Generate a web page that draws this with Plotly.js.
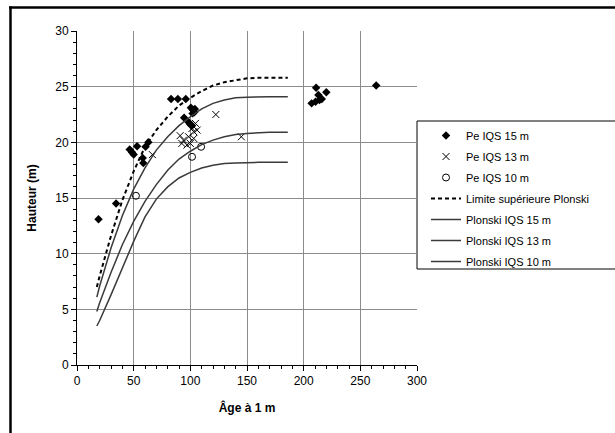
<!DOCTYPE html>
<html>
<head>
<meta charset="utf-8">
<script src="https://cdn.plot.ly/plotly-3.0.1.min.js"></script>
<style>html,body{margin:0;padding:0;background:#fff;}#chart{width:615px;height:433px;}</style>
</head>
<body>
<div id="chart"></div>
<script>
// Observed points: Pe IQS 15 m (diamonds)
const pe15Age = [19, 34.5, 46.5, 48.5, 50, 53, 58, 58.5, 60.5, 63, 83, 89, 96, 94.5, 98.5, 100, 101.5, 100.5, 102.5, 103.5, 102, 104, 207, 210.5, 211, 213, 214, 216, 220, 264];
const pe15H   = [13.1, 14.5, 19.35, 19.1, 18.9, 19.65, 18.6, 18.15, 19.6, 20.0, 23.9, 23.9, 23.9, 22.2, 21.8, 21.6, 21.5, 23.1, 22.9, 22.7, 22.6, 23.0, 23.5, 23.65, 24.9, 24.25, 23.8, 23.9, 24.5, 25.1];
// Pe IQS 13 m (crosses)
const pe13Age = [66.5, 91, 92.5, 94, 97, 98.5, 100, 101.5, 103, 103, 104.5, 106, 122.5, 145];
const pe13H   = [18.9, 20.6, 19.9, 20.2, 19.75, 20.5, 19.9, 21.25, 20.95, 20.35, 21.7, 21.1, 22.5, 20.5];
// Pe IQS 10 m (circles)
const pe10Age = [52, 101.5, 109.5];
const pe10H   = [15.2, 18.7, 19.6];
// Plonski curves
const curveAge = [17.5, 20, 30, 40, 50, 60, 70, 80, 90, 100, 110, 120, 130, 140, 150, 160, 170, 186];
const limitH   = [7.0, 8.0, 11.6, 14.8, 17.4, 19.6, 21.1, 22.3, 23.3, 24.0, 24.6, 25.1, 25.4, 25.6, 25.75, 25.8, 25.8, 25.8];
const plonski15 = [6.1, 7.1, 10.5, 13.4, 15.8, 17.7, 19.3, 20.5, 21.5, 22.3, 23.0, 23.5, 23.8, 24.0, 24.05, 24.1, 24.1, 24.1];
const plonski13 = [4.8, 5.6, 8.3, 10.8, 12.9, 14.7, 16.2, 17.5, 18.5, 19.2, 19.8, 20.2, 20.5, 20.7, 20.8, 20.85, 20.9, 20.9];
const plonski10 = [3.5, 4.0, 6.3, 8.7, 11.1, 13.3, 14.9, 16.0, 16.8, 17.3, 17.7, 17.95, 18.1, 18.15, 18.2, 18.2, 18.2, 18.2];

const names = ['Pe IQS 15 m', 'Pe IQS 13 m', 'Pe IQS 10 m', 'Limite supérieure Plonski', 'Plonski IQS 15 m', 'Plonski IQS 13 m', 'Plonski IQS 10 m'];
const xTicks = [0, 50, 100, 150, 200, 250, 300];
const yTicks = [0, 5, 10, 15, 20, 25, 30];

const font = 'Liberation Sans, Arial, sans-serif';
const curveColor = '#3a3a3a';

const traces = [
  {x: pe15Age, y: pe15H, name: names[0], mode: 'markers', type: 'scatter', legendgroup: 'a',
   marker: {symbol: 'diamond', size: 6.5, color: '#000'}},
  {x: pe13Age, y: pe13H, name: names[1], mode: 'markers', type: 'scatter', legendgroup: 'b',
   marker: {symbol: 'x-thin-open', size: 7, color: '#000', line: {color: '#000', width: 1}}},
  {x: pe10Age, y: pe10H, name: names[2], mode: 'markers', type: 'scatter', legendgroup: 'c',
   marker: {symbol: 'circle-open', size: 7, color: '#000', line: {color: '#000', width: 1}}},
  {x: curveAge, y: limitH, name: names[3], mode: 'lines', type: 'scatter', legendgroup: 'd',
   line: {color: '#000', width: 2, dash: '4px,3px'}},
  {x: curveAge, y: plonski15, name: names[4], mode: 'lines', type: 'scatter', legendgroup: 'e',
   line: {color: curveColor, width: 1.5}},
  {x: curveAge, y: plonski13, name: names[5], mode: 'lines', type: 'scatter', legendgroup: 'f',
   line: {color: curveColor, width: 1.5}},
  {x: curveAge, y: plonski10, name: names[6], mode: 'lines', type: 'scatter', legendgroup: 'g',
   line: {color: curveColor, width: 1.5}}
];

// pixel -> paper helpers for decorative frame
const L = 77, R = 198, T = 31, B = 68, W = 615, H = 433;
const pw = W - L - R, ph = H - T - B;
const px = v => (v - L) / pw;
const py = v => (H - B - v) / ph;

const layout = {
  width: W, height: H,
  margin: {l: L, r: R, t: T, b: B, pad: 0},
  paper_bgcolor: '#fff', plot_bgcolor: '#fff',
  font: {family: font, size: 11, color: '#000'},
  showlegend: true,
  legend: {
    xref: 'container', yref: 'container',
    x: 426 / W, y: 1 - 121 / H, xanchor: 'left', yanchor: 'top',
    bgcolor: 'rgba(0,0,0,0)', borderwidth: 0,
    font: {family: font, size: 11, color: '#000'},
    tracegroupgap: 2, itemwidth: 30
  },
  xaxis: {
    range: [0, 300], tickvals: xTicks, ticktext: xTicks.map(String),
    showgrid: true, gridcolor: '#8c8c8c', gridwidth: 1,
    zeroline: false, showline: true, linecolor: '#000', linewidth: 1,
    ticks: 'outside', ticklen: 5, tickcolor: '#000', tickwidth: 1,
    minor: {dtick: 10, ticks: 'outside', ticklen: 3, tickcolor: '#000', showgrid: false},
    tickfont: {family: font, size: 12},
    title: {text: '<b>Âge à 1 m</b>', font: {family: font, size: 12}, standoff: 16},
    fixedrange: true
  },
  yaxis: {
    range: [0, 30], tickvals: yTicks, ticktext: yTicks.map(String),
    showgrid: true, gridcolor: '#8c8c8c', gridwidth: 1,
    zeroline: false, showline: true, linecolor: '#000', linewidth: 1,
    ticks: 'outside', ticklen: 5, tickcolor: '#000', tickwidth: 1,
    minor: {dtick: 1, ticks: 'outside', ticklen: 3, tickcolor: '#000', showgrid: false},
    tickfont: {family: font, size: 12},
    title: {text: '<b>Hauteur (m)</b>', font: {family: font, size: 12}, standoff: 16},
    fixedrange: true
  },
  shapes: [
    {type: 'line', xref: 'paper', yref: 'paper', x0: px(9), x1: px(620), y0: py(7.5), y1: py(7.5),
     line: {color: '#000', width: 2.5}},
    {type: 'line', xref: 'paper', yref: 'paper', x0: px(10.5), x1: px(10.5), y0: py(6.5), y1: py(440),
     line: {color: '#000', width: 2.5}},
    {type: 'rect', xref: 'paper', yref: 'paper', layer: 'below',
     x0: px(417), x1: px(625), y0: py(269), y1: py(121),
     fillcolor: '#fff', line: {color: '#000', width: 1}}
  ]
};

Plotly.newPlot('chart', traces, layout, {staticPlot: true, displayModeBar: false});
</script>
</body>
</html>
